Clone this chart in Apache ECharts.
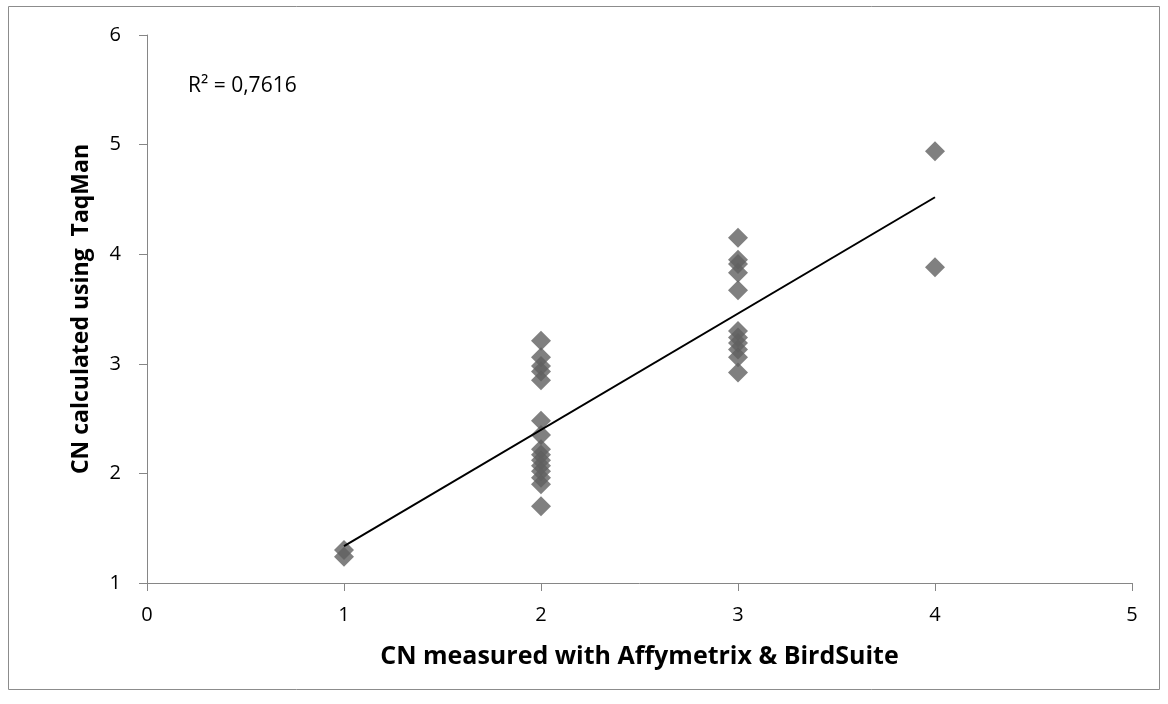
<!DOCTYPE html>
<html><head><meta charset="utf-8">
<script src="https://cdn.jsdelivr.net/npm/echarts@6/dist/echarts.min.js"></script>
<style>html,body{margin:0;padding:0;background:#fff}#c{width:1168px;height:704px}</style>
</head><body><div id="c"></div>
<script>
const xLabel = 'CN measured with Affymetrix & BirdSuite';
const yLabel = 'CN calculated using  TaqMan';
const r2Text = 'R² = 0,7616';
const xValues = [1,1, 2,2,2,2,2,2,2,2,2,2,2,2,2,2,2, 3,3,3,3,3,3,3,3,3,3,3, 4,4];
const yValues = [1.30,1.24, 3.21,3.06,2.98,2.93,2.85,2.48,2.35,2.22,2.17,2.12,2.07,2.02,1.96,1.90,1.70, 4.15,3.95,3.91,3.83,3.67,3.30,3.24,3.19,3.13,3.06,2.92, 4.94,3.88];
const points = xValues.map((x,i)=>[x,yValues[i]]);
// least squares trend line
const n = points.length;
const mx = xValues.reduce((a,b)=>a+b,0)/n, my = yValues.reduce((a,b)=>a+b,0)/n;
let sxy=0,sxx=0; for(let i=0;i<n;i++){sxy+=(xValues[i]-mx)*(yValues[i]-my);sxx+=(xValues[i]-mx)**2;}
const slope=sxy/sxx, icpt=my-slope*mx;
const xMinD=Math.min(...xValues), xMaxD=Math.max(...xValues);
const trend=[[xMinD,icpt+slope*xMinD],[xMaxD,icpt+slope*xMaxD]];
const chart = echarts.init(document.getElementById('c'));
const font = 'Open Sans, Liberation Sans, sans-serif';
chart.setOption({
  animation:false,
  graphic:[{type:'rect',shape:{x:8.5,y:6.5,width:1151,height:683},style:{fill:null,stroke:'#8c8c8c',lineWidth:1}},
    {type:'text',left:188,top:76,style:{text:r2Text,font:'21px '+font,fill:'#000'}}],
  grid:{left:147,right:36,top:35,bottom:121},
  xAxis:{type:'value',min:0,max:5,interval:1,splitLine:{show:false},
    axisLine:{lineStyle:{color:'#868686'}},axisTick:{inside:false,length:8,lineStyle:{color:'#868686'}},
    axisLabel:{color:'#000',fontSize:20,fontFamily:font,margin:22},
    name:xLabel,nameLocation:'middle',nameGap:61,nameTextStyle:{color:'#000',fontSize:25,fontWeight:'bold',fontFamily:font}},
  yAxis:{type:'value',min:1,max:6,interval:1,splitLine:{show:false},
    axisLine:{show:true,lineStyle:{color:'#868686'}},axisTick:{show:true,length:8,lineStyle:{color:'#868686'}},
    axisLabel:{color:'#000',fontSize:20,fontFamily:font,margin:26},
    name:yLabel,nameLocation:'middle',nameGap:54,nameTextStyle:{color:'#000',fontSize:23,fontWeight:'bold',fontFamily:font}},
  series:[
    {type:'scatter',data:points,symbol:'diamond',symbolSize:20,itemStyle:{color:'#606060'},z:2},
    {type:'line',data:trend,symbol:'none',lineStyle:{color:'#000',width:2},z:3}
  ]
});
</script></body></html>
